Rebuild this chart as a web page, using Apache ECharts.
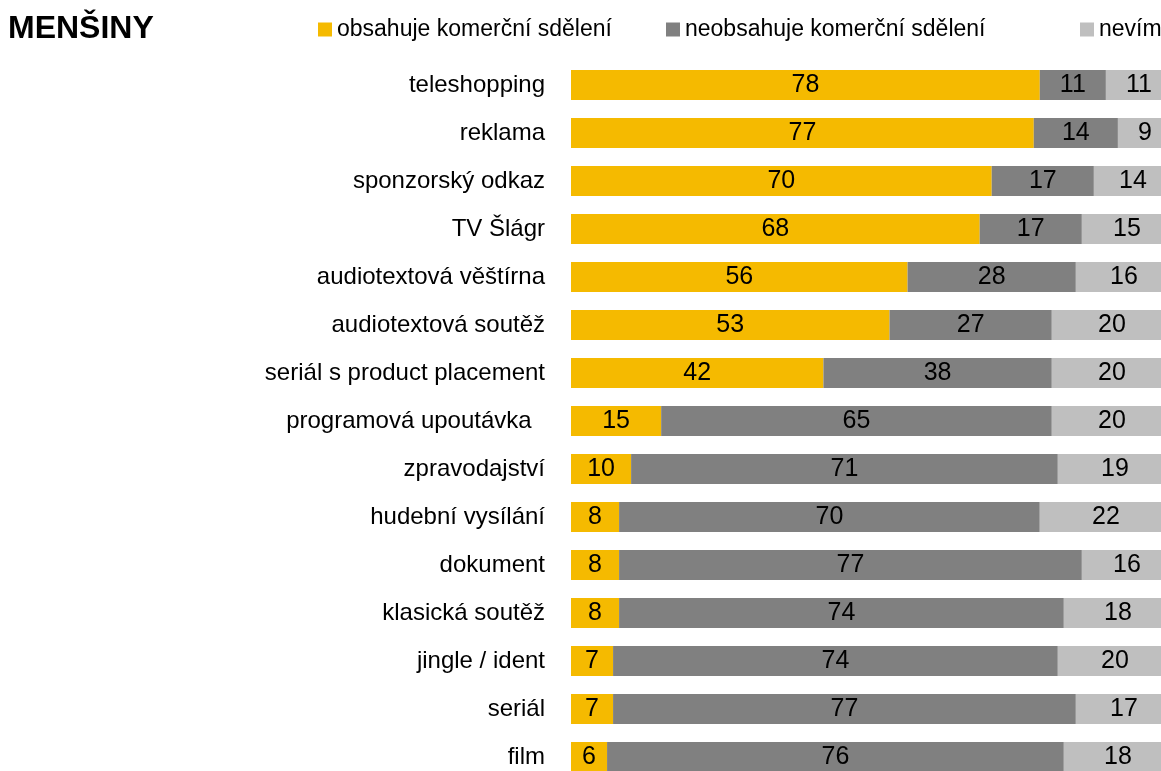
<!DOCTYPE html>
<html>
<head>
<meta charset="utf-8">
<script src="https://cdn.jsdelivr.net/npm/echarts@6/dist/echarts.min.js"></script>
<style>
  html, body { margin: 0; padding: 0; background: #fff; }
  #main { width: 1161px; height: 771px; }
</style>
</head>
<body>
<div id="main"></div>
<script>
// kategorie (shora dolů)
var categories = ['teleshopping', 'reklama', 'sponzorský odkaz', 'TV Šlágr', 'audiotextová věštírna',
  'audiotextová soutěž', 'seriál s product placement', 'programová upoutávka  ', 'zpravodajství',
  'hudební vysílání', 'dokument', 'klasická soutěž', 'jingle / ident', 'seriál', 'film'];
var seriesNames = ['obsahuje komerční sdělení', 'neobsahuje komerční sdělení', 'nevím'];
var obsahuje   = [78, 77, 70, 68, 56, 53, 42, 15, 10, 8, 8, 8, 7, 7, 6];
var neobsahuje = [11, 14, 17, 17, 28, 27, 38, 65, 71, 70, 77, 74, 74, 77, 76];
var nevim      = [11, 9, 14, 15, 16, 20, 20, 20, 19, 22, 16, 18, 20, 17, 18];

var fontName = '"Liberation Sans", Arial, sans-serif';
var colors = ['#F5BA00', '#808080', '#BFBFBF'];

var myChart = echarts.init(document.getElementById('main'));

function makeSeries(name, data, color) {
	return {
		name: name,
		type: 'bar',
		stack: 'total',
		data: data,
		barWidth: 30,
		itemStyle: { color: color },
		label: {
			show: true,
			position: 'inside',
			color: '#000',
			fontFamily: fontName,
			fontSize: 25
		},
		emphasis: { disabled: true }
	};
}

function legendAt(name, left) {
	return {
		data: [name],
		left: left,
		top: 18,
		icon: 'rect',
		itemWidth: 14,
		itemHeight: 14,
		itemGap: 0,
		padding: 0,
		selectedMode: false,
		textStyle: { fontFamily: fontName, fontSize: 23, color: '#000' }
	};
}

var option = {
	animation: false,
	backgroundColor: '#fff',
	title: {
		text: 'MENŠINY',
		left: 8,
		top: 13,
		padding: 0,
		textStyle: { fontFamily: fontName, fontWeight: 'bold', fontSize: 32, color: '#000' }
	},
	legend: [
		legendAt(seriesNames[0], 318),
		legendAt(seriesNames[1], 666),
		legendAt(seriesNames[2], 1080)
	],
	// plocha grafu přesahuje pravý a spodní okraj obrázku (oříznuto)
	grid: { left: 571, top: 61, width: 601, height: 720, containLabel: false, outerBoundsMode: 'none' },
	xAxis: {
		type: 'value',
		min: 0,
		max: 100,
		show: false
	},
	yAxis: {
		type: 'category',
		data: categories,
		inverse: true,
		axisLine: { show: false },
		axisTick: { show: false },
		axisLabel: {
			margin: 26,
			color: '#000',
			fontFamily: fontName,
			fontSize: 24
		}
	},
	series: [
		makeSeries(seriesNames[0], obsahuje, colors[0]),
		makeSeries(seriesNames[1], neobsahuje, colors[1]),
		makeSeries(seriesNames[2], nevim, colors[2])
	]
};
myChart.setOption(option);
</script>
</body>
</html>
